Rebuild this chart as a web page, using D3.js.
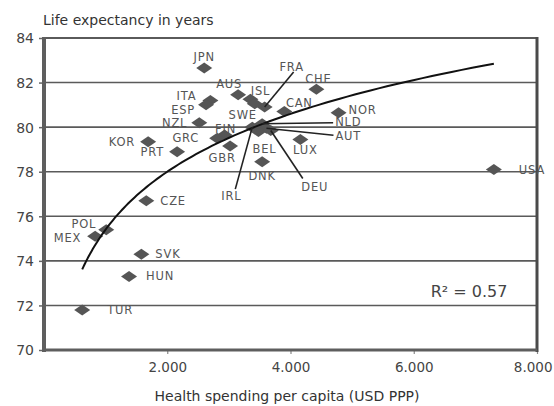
<!DOCTYPE html>
<html>
<head>
<meta charset="utf-8">
<script src="https://cdn.jsdelivr.net/npm/d3@7"></script>
<style>
  html, body { margin: 0; padding: 0; background: #fff; }
  svg { display: block; }
  text { font-family: "DejaVu Sans", Verdana, sans-serif; }
</style>
</head>
<body>
<svg id="chart" width="554" height="406"></svg>
<script>
// OECD countries: health spending per capita (USD PPP) vs life expectancy
const countries = ["JPN","ITA","ESP","AUS","ISL","SWE","FRA","CHE","CAN","NOR","NLD","AUT","BEL","LUX","DEU","IRL","DNK","GBR","FIN","GRC","NZL","KOR","PRT","CZE","POL","MEX","SVK","HUN","TUR","USA"];
const spending  = [2600,2700,2630,3150,3350,3420,3580,4420,3900,4780,3540,3610,3480,4160,3680,3380,3540,3020,2930,2810,2520,1690,2160,1660,1010,830,1580,1380,620,7300];
const lifeExp   = [82.65,81.2,81.0,81.45,81.25,81.05,80.9,81.7,80.7,80.65,80.15,79.95,79.8,79.45,79.85,80.0,78.45,79.15,79.65,79.5,80.2,79.35,78.9,76.7,75.4,75.1,74.3,73.3,71.8,78.1];

const yTicks = [70, 72, 74, 76, 78, 80, 82, 84];
const xTicks = [2000, 4000, 6000, 8000];
const xTickLabels = ["2.000", "4.000", "6.000", "8.000"];
const rSquaredText = "R² = 0.57";

// label placement relative to each marker: [dx, dy, anchor, leaderDx, leaderDy]
const labelPlacement = {
  JPN: [0, -11, "middle"], ITA: [-14, -4, "end"], ESP: [-11, 5, "end"],
  AUS: [-9, -11, "middle"], ISL: [10, -8, "middle"], SWE: [-12, 11, "middle"],
  FRA: [27, -40, "middle", 29, -35], CHE: [2, -10, "middle"], CAN: [15, -9, "middle"],
  NOR: [10, -3, "start"], NLD: [73, -2, "start", 71, -1], AUT: [69, 8, "start", 67, 7],
  BEL: [6, 17, "middle"], LUX: [5, 11, "middle"], DEU: [44, 56, "middle", 32, 48],
  IRL: [-21, 69, "middle", -17, 62], DNK: [0, 14, "middle"], GBR: [-8, 12, "middle"],
  FIN: [1, -6, "middle"], GRC: [-18, 0, "end"], NZL: [-12, 0, "end"],
  KOR: [-13, 0, "end"], PRT: [-13, 0, "end"], CZE: [14, 0, "start"],
  POL: [-10, -6, "end"], MEX: [-14, 2, "end"], SVK: [14, 0, "start"],
  HUN: [17, 0, "start"], TUR: [25, 0, "start"], USA: [25, 0, "start"]
};

const data = countries.map((c, i) => ({ code: c, x: spending[i], y: lifeExp[i] }));

const svg = d3.select("#chart");
const W = 554, H = 406;
const m = { left: 44, right: 17, top: 38, bottom: 56 };
const x0 = m.left, x1 = W - m.right, y0 = m.top, y1 = H - m.bottom;

const x = d3.scaleLinear().domain([0, 8000]).range([x0, x1]);
const y = d3.scaleLinear().domain([70, 84]).range([y1, y0]);

svg.append("rect").attr("width", W).attr("height", H).attr("fill", "#fff");

// horizontal gridlines
svg.append("g").selectAll("line").data(yTicks.filter(v => v > 70)).join("line")
  .attr("x1", x0).attr("x2", x1)
  .attr("y1", d => y(d)).attr("y2", d => y(d))
  .attr("stroke", "#5a5a5a").attr("stroke-width", d => d === 84 ? 2 : 1.6);

// y axis
const yAxis = svg.append("g").attr("transform", `translate(${x0},0)`)
  .call(d3.axisLeft(y).tickValues(yTicks).tickSize(5).tickPadding(5).tickFormat(d3.format("d")));
yAxis.select(".domain").remove();
yAxis.selectAll(".tick line").attr("stroke", "#666").attr("stroke-width", 1.5);
yAxis.selectAll("text").attr("font-size", 14).attr("fill", "#444").attr("dy", "0.35em");

// x axis
const xAxis = svg.append("g").attr("transform", `translate(0,${y1})`)
  .call(d3.axisBottom(x).tickValues(xTicks).tickSize(4).tickPadding(8)
    .tickFormat((d, i) => xTickLabels[i]));
xAxis.select(".domain").remove();
xAxis.selectAll(".tick line").attr("stroke", "#888").attr("stroke-width", 1.2);
xAxis.selectAll("text").attr("font-size", 13.5).attr("fill", "#444");
// keep the last tick label inside the canvas
xAxis.selectAll(".tick").filter(d => d === 8000).select("text")
  .attr("text-anchor", "end").attr("x", W - x1 - 2);

// plot frame
svg.append("line").attr("x1", x0).attr("x2", x0).attr("y1", y0 - 1).attr("y2", y1 + 2)
  .attr("stroke", "#5e5e5e").attr("stroke-width", 4);
svg.append("line").attr("x1", x1).attr("x2", x1).attr("y1", y0 - 1).attr("y2", y1 + 2)
  .attr("stroke", "#4a4a4a").attr("stroke-width", 3);
svg.append("line").attr("x1", x0).attr("x2", x1).attr("y1", y1).attr("y2", y1)
  .attr("stroke", "#5e5e5e").attr("stroke-width", 3);

// markers
const diamond = "M0,-5.5L8,0L0,5.5L-8,0Z";
svg.append("g").selectAll("path").data(data).join("path")
  .attr("d", diamond)
  .attr("transform", d => `translate(${x(d.x)},${y(d.y)})`)
  .attr("fill", "#555");

// logarithmic trend fitted to the points
const lx = data.map(d => Math.log(d.x));
const meanL = d3.mean(lx), meanY = d3.mean(lifeExp);
const slope = d3.sum(lx, (l, i) => (l - meanL) * (lifeExp[i] - meanY)) / d3.sum(lx, l => (l - meanL) ** 2);
const intercept = meanY - slope * meanL;
const [xmin, xmax] = d3.extent(spending);
const trendPts = d3.range(0, 101).map(k => {
  const v = xmin * Math.pow(xmax / xmin, k / 100);
  return [v, intercept + slope * Math.log(v)];
});
svg.append("path")
  .datum(trendPts)
  .attr("d", d3.line().x(d => x(d[0])).y(d => y(d[1])))
  .attr("fill", "none").attr("stroke", "#111").attr("stroke-width", 2);

// leader lines
svg.append("g").selectAll("line").data(data.filter(d => labelPlacement[d.code].length > 3)).join("line")
  .attr("x1", d => x(d.x)).attr("y1", d => y(d.y))
  .attr("x2", d => x(d.x) + labelPlacement[d.code][3])
  .attr("y2", d => y(d.y) + labelPlacement[d.code][4])
  .attr("stroke", "#222").attr("stroke-width", 1.6);

// country labels
svg.append("g").selectAll("text").data(data).join("text")
  .attr("x", d => x(d.x) + labelPlacement[d.code][0])
  .attr("y", d => y(d.y) + labelPlacement[d.code][1])
  .attr("text-anchor", d => labelPlacement[d.code][2])
  .attr("dy", "0.35em")
  .attr("font-size", 11.5).attr("letter-spacing", 0.8)
  .attr("fill", "#555")
  .text(d => d.code);

// titles
svg.append("text").attr("x", x0 - 1).attr("y", 25)
  .attr("font-size", 14).attr("fill", "#333").text("Life expectancy in years");
svg.append("text").attr("x", 287).attr("y", 401)
  .attr("text-anchor", "middle").attr("font-size", 14).attr("fill", "#333")
  .text("Health spending per capita (USD PPP)");

svg.append("text").attr("x", 469).attr("y", 297)
  .attr("text-anchor", "middle").attr("font-size", 16).attr("fill", "#444")
  .text(rSquaredText);
</script>
</body>
</html>
